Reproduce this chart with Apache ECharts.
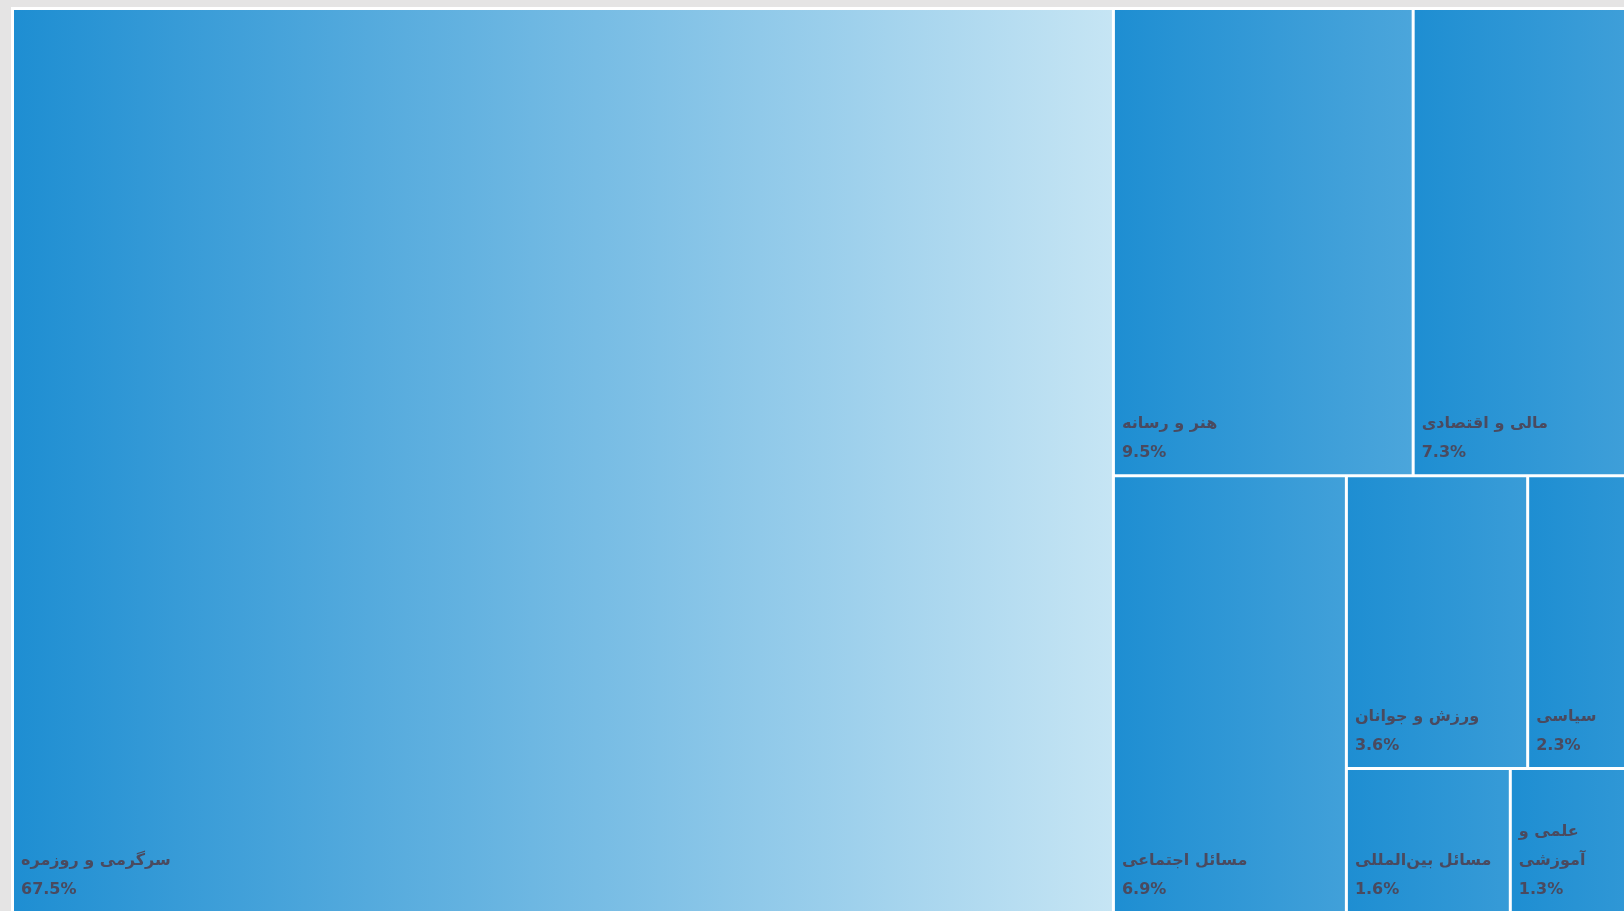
<!DOCTYPE html>
<html>
<head>
<meta charset="utf-8">
<script src="https://cdn.jsdelivr.net/npm/echarts@6/dist/echarts.min.js"></script>
<style>
html,body{margin:0;padding:0;background:#e5e4e4;overflow:hidden;}
#chart{width:1624px;height:911px;}
</style>
</head>
<body>
<div id="chart"></div>
<script>
// ---- data ----
const categories = [
  'سرگرمی و روزمره',
  'هنر و رسانه',
  'مالی و اقتصادی',
  'مسائل اجتماعی',
  'ورزش و جوانان',
  'سیاسی',
  'مسائل بین‌المللی',
  'علمی و\nآموزشی'
];
const values = [67.5, 9.5, 7.3, 6.9, 3.6, 2.3, 1.6, 1.3];
// nesting of the leaves (indices into categories/values) that fixes the tiling
const grouping = [0, [[1, 2], [3, [[4, 5], [6, 7]]]]];

// ---- style ----
const gradStart = '#1e8ed2';
const gradEnd = '#c6e5f4';
const gradLength = 1100;

function leafStyle() {
  return {
    color: {
      type: 'linear', global: true, x: 0, y: 0, x2: gradLength, y2: 0,
      colorStops: [{ offset: 0, color: gradStart }, { offset: 1, color: gradEnd }]
    },
    borderWidth: 0
  };
}
function build(node) {
  if (typeof node === 'number') {
    return { name: categories[node], value: values[node], itemStyle: leafStyle() };
  }
  return {
    name: '',
    children: node.map(build),
    itemStyle: { borderWidth: 0, gapWidth: 3, borderColor: '#ffffff' }
  };
}
const treeData = grouping.map(build);

const labelColor = '#4a4a5f';
const chart = echarts.init(document.getElementById('chart'));
chart.setOption({
  backgroundColor: '#e5e4e4',
  animation: false,
  tooltip: { show: false },
  series: [{
    type: 'treemap',
    left: 11, top: 7, width: 1634, height: 907,
    sort: false,
    squareRatio: 1,
    roam: false,
    nodeClick: false,
    breadcrumb: { show: false },
    itemStyle: { borderWidth: 0, gapWidth: 3, borderColor: '#ffffff' },
    levels: [{ itemStyle: { borderWidth: 3, gapWidth: 3, borderColor: '#ffffff' } }],
    label: {
      show: true,
      position: 'insideBottomLeft',
      distance: 2,
      color: labelColor,
      fontFamily: "'DejaVu Sans', sans-serif",
      fontWeight: 'bold',
      fontSize: 16,
      lineHeight: 29,
      textBorderWidth: 0,
      formatter: function (p) { return p.name + '\n' + Number(p.value).toFixed(1) + '%'; }
    },
    upperLabel: { show: false },
    emphasis: { disabled: true },
    data: treeData
  }]
});
</script>
</body>
</html>
